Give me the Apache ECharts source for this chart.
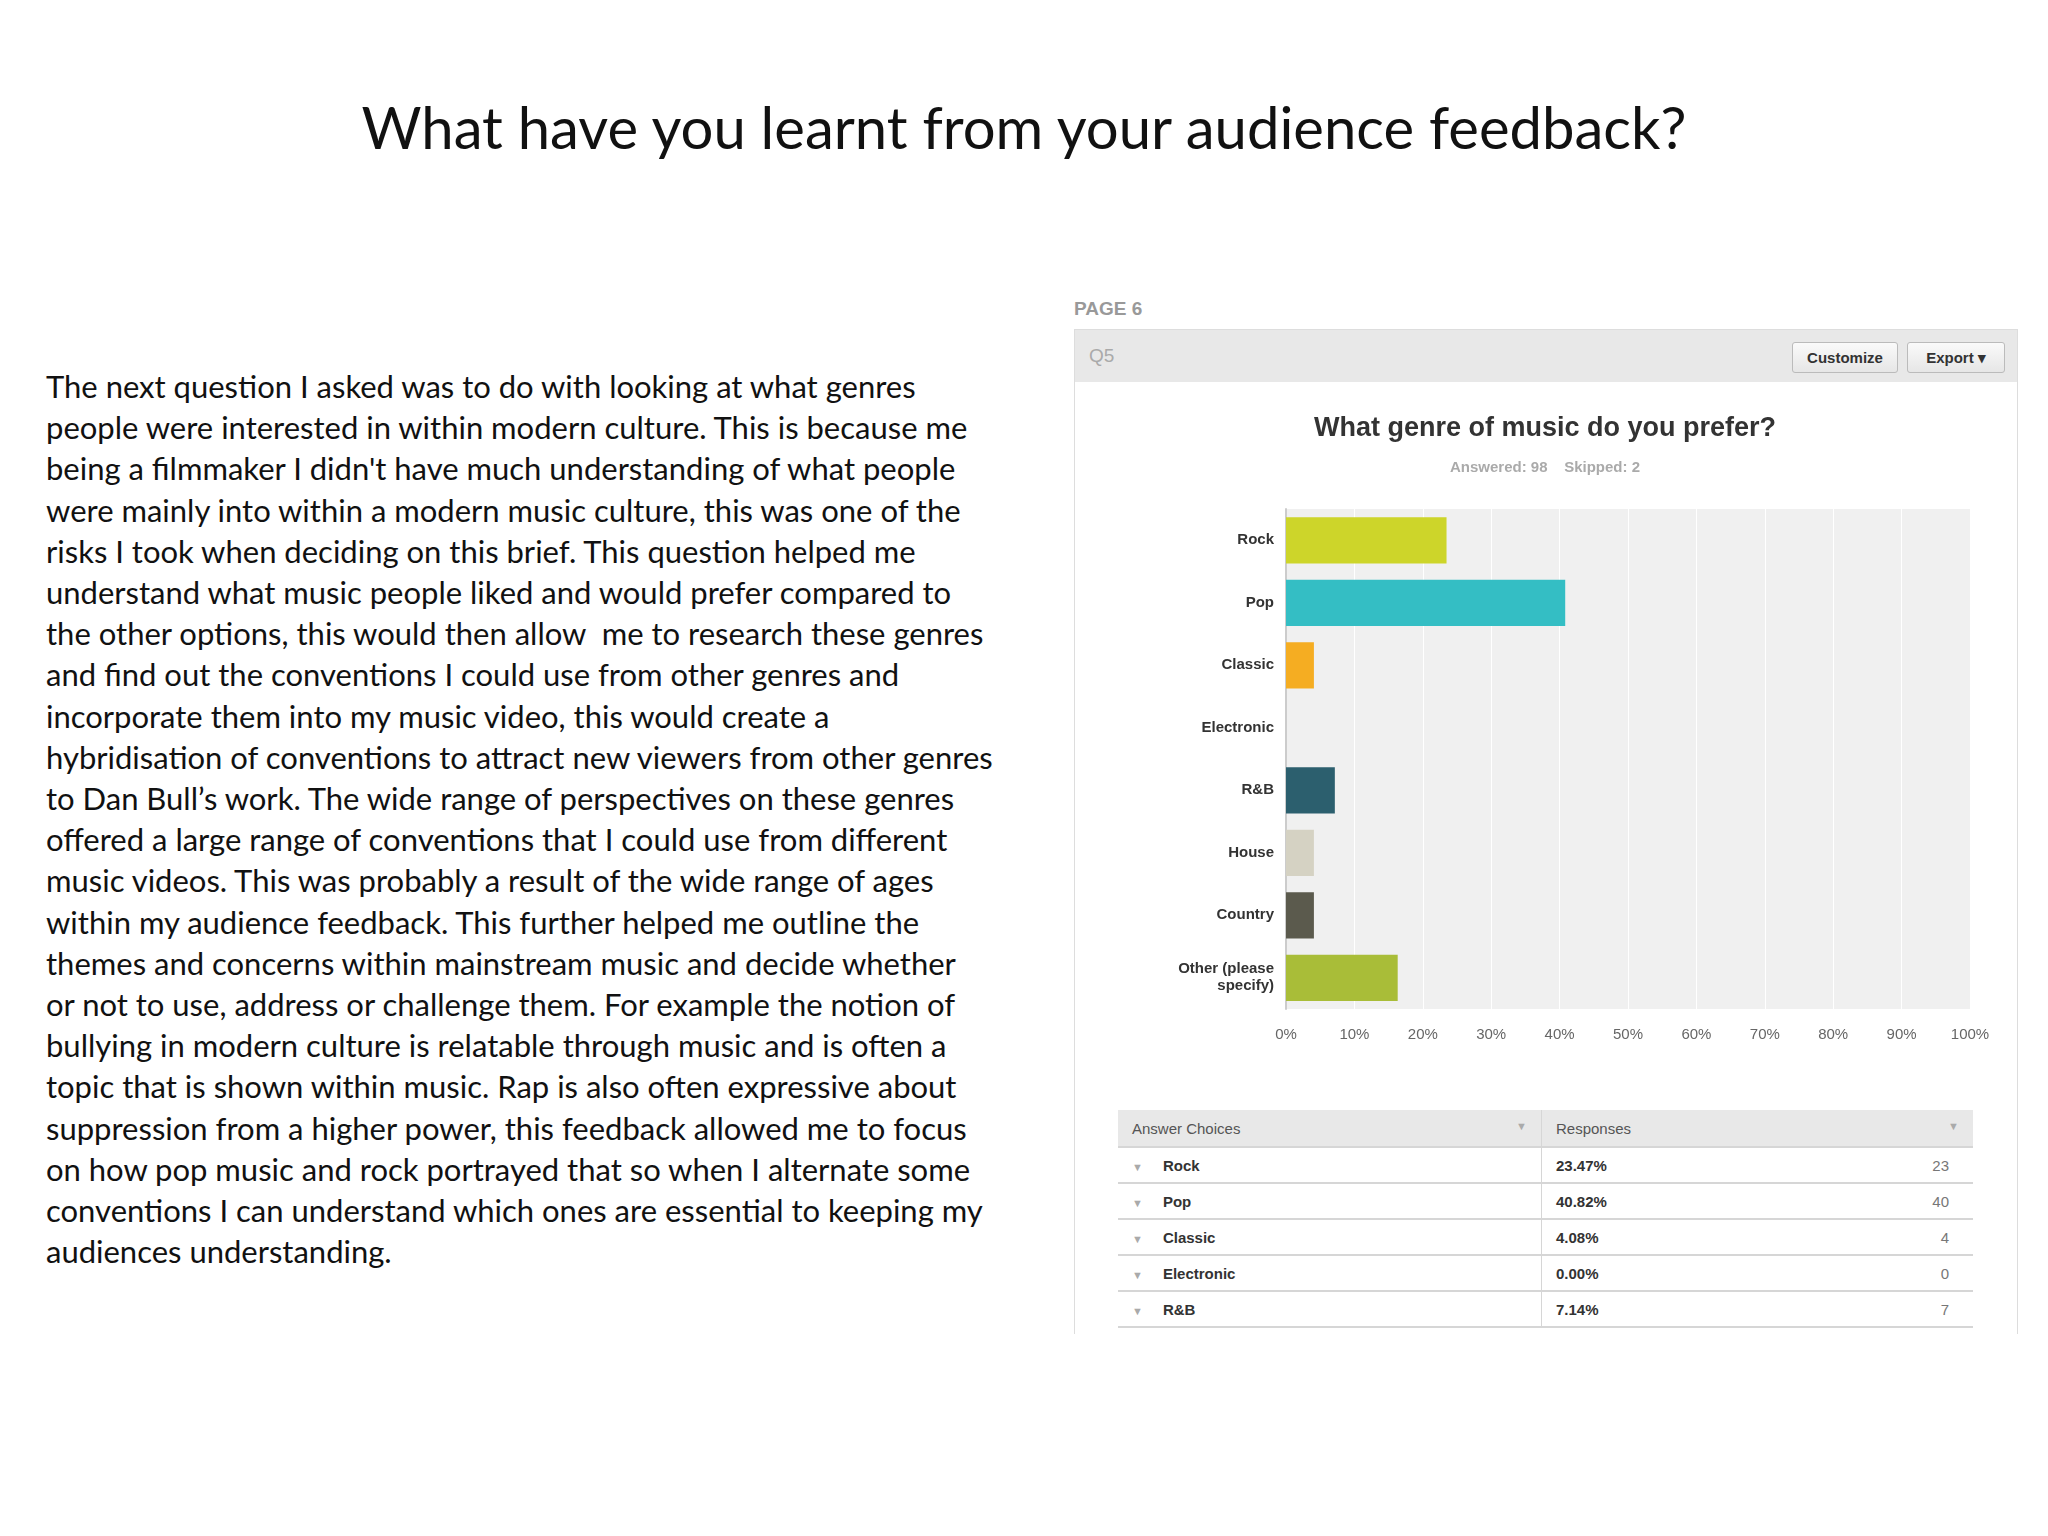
<!DOCTYPE html>
<html lang="en">
<head>
<meta charset="UTF-8">
<title>Audience feedback</title>
<script src="https://cdn.jsdelivr.net/npm/echarts@6/dist/echarts.min.js"></script>
<style>
    body { margin: 0; width: 2048px; height: 1536px; background: #fff; position: relative; overflow: hidden; font-family: Lato, "Open Sans", sans-serif; }
    .title { position: absolute; top: 92px; left: 0; width: 2048px; text-align: center; font-size: 58px; color: #111; }
    .body-text { position: absolute; left: 46px; top: 366px; font-size: 31px; line-height: 41.2px; color: #111; white-space: pre; }
    .page6 { position: absolute; left: 1074px; top: 298px; font: bold 19px "Liberation Sans", Arial, sans-serif; color: #999; }
    .panel { position: absolute; left: 1074px; top: 329px; width: 942px; height: 1004px; border: 1px solid #ddd; border-bottom: none; }
    .panel-head { height: 52px; background: #e8e8e8; position: relative; }
    .q5 { position: absolute; left: 14px; top: 15px; font: 19px "Liberation Sans", Arial, sans-serif; color: #aaa; }
    .btn { position: absolute; top: 12px; height: 29px; border: 1px solid #bbb; border-radius: 3px; background: linear-gradient(#fafafa, #e6e6e6); font: bold 15px "Liberation Sans", Arial, sans-serif; color: #333; line-height: 29px; text-align: center; }
    #chart { position: absolute; left: 1075px; top: 382px; width: 940px; height: 700px; }
    table { position: absolute; left: 1118px; top: 1110px; width: 855px; border-collapse: collapse; font: 15px "Liberation Sans", Arial, sans-serif; color: #333; }
    th { background: #e8e8e8; font-weight: normal; text-align: left; height: 36px; padding: 0 14px; color: #555; border-bottom: 2px solid #d6d6d6; }
    td { height: 34px; border-bottom: 2px solid #d6d6d6; padding: 0 14px; }
    td.b { font-weight: bold; }
    td.sep, th.sep { border-left: 1px solid #d6d6d6; }
    .arr { color: #aaa; font-size: 11px; }
</style>
</head>
<body>
<div class="title">What have you learnt from your audience feedback?</div>
<div class="body-text" id="bodyText"></div>
<div class="page6">PAGE 6</div>
<div class="panel">
    <div class="panel-head">
        <div class="q5">Q5</div>
        <div class="btn" style="left:717px;width:104px">Customize</div>
        <div class="btn" style="left:832px;width:96px">Export &#9662;</div>
    </div>
</div>
<div id="chart"></div>
<table id="tbl"></table>

<script>
    const paragraph = [
        "The next question I asked was to do with looking at what genres",
        "people were interested in within modern culture. This is because me",
        "being a filmmaker I didn't have much understanding of what people",
        "were mainly into within a modern music culture, this was one of the",
        "risks I took when deciding on this brief. This question helped me",
        "understand what music people liked and would prefer compared to",
        "the other options, this would then allow  me to research these genres",
        "and find out the conventions I could use from other genres and",
        "incorporate them into my music video, this would create a",
        "hybridisation of conventions to attract new viewers from other genres",
        "to Dan Bull\u2019s work. The wide range of perspectives on these genres",
        "offered a large range of conventions that I could use from different",
        "music videos. This was probably a result of the wide range of ages",
        "within my audience feedback. This further helped me outline the",
        "themes and concerns within mainstream music and decide whether",
        "or not to use, address or challenge them. For example the notion of",
        "bullying in modern culture is relatable through music and is often a",
        "topic that is shown within music. Rap is also often expressive about",
        "suppression from a higher power, this feedback allowed me to focus",
        "on how pop music and rock portrayed that so when I alternate some",
        "conventions I can understand which ones are essential to keeping my",
        "audiences understanding."
    ]
    const genres = ['Rock', 'Pop', 'Classic', 'Electronic', 'R&B', 'House', 'Country', 'Other (please\nspecify)']
    const percents = [23.47, 40.82, 4.08, 0, 7.14, 4.08, 4.08, 16.33]
    const counts = [23, 40, 4, 0, 7, 4, 4, 16]
    const colors = ['#cdd52a', '#34bec4', '#f5ad22', '#999999', '#2c5f6e', '#d5d2c3', '#5b5a4d', '#a9bd38']
    const tableRows = 5  // only the first rows are visible in the screenshot

    document.getElementById('bodyText').textContent = paragraph.join('\n')

    let html = '<tr><th>Answer Choices<span class="arr" style="float:right">&#9660;</span></th>' +
        '<th class="sep">Responses<span class="arr" style="float:right">&#9660;</span></th></tr>'
    for (let i = 0; i < tableRows; i++) {
        html += '<tr><td class="b" style="width:395px"><span class="arr" style="margin-right:20px">&#9660;</span>' +
            genres[i] + '</td><td class="b sep">' + percents[i].toFixed(2) + '%' +
            '<span style="float:right;font-weight:normal;color:#777;margin-right:10px">' + counts[i] + '</span></td></tr>'
    }
    document.getElementById('tbl').innerHTML = html

    let chart = echarts.init(document.getElementById('chart'))
    chart.setOption({
        animation: false,
        title: {
            text: 'What genre of music do you prefer?',
            subtext: 'Answered: 98    Skipped: 2',
            left: 'center',
            top: 28,
            itemGap: 18,
            textStyle: { fontFamily: 'Liberation Sans', fontSize: 27, fontWeight: 'bold', color: '#333' },
            subtextStyle: { fontFamily: 'Liberation Sans', fontSize: 15, fontWeight: 'bold', color: '#aaa' }
        },
        grid: { left: 211, top: 127, width: 684, height: 500, containLabel: false, show: true, backgroundColor: '#f0f0f0', borderWidth: 0 },
        xAxis: {
            type: 'value', min: 0, max: 100, interval: 10,
            axisLine: { show: false },
            axisTick: { show: false },
            splitLine: { lineStyle: { color: '#ffffff', width: 1 } },
            axisLabel: { formatter: '{value}%', fontFamily: 'Liberation Sans', fontSize: 15, color: '#666', margin: 18 }
        },
        yAxis: {
            type: 'category', data: genres, inverse: true,
            axisLine: { lineStyle: { color: '#cccccc', width: 2 } },
            axisTick: { show: false },
            axisLabel: { fontFamily: 'Liberation Sans', fontSize: 15, fontWeight: 'bold', color: '#333', margin: 12, lineHeight: 17 }
        },
        series: [{
            type: 'bar',
            data: percents.map((v, i) => ({ value: v, itemStyle: { color: colors[i] } })),
            barWidth: '74%'
        }]
    })
</script>
</body>
</html>
